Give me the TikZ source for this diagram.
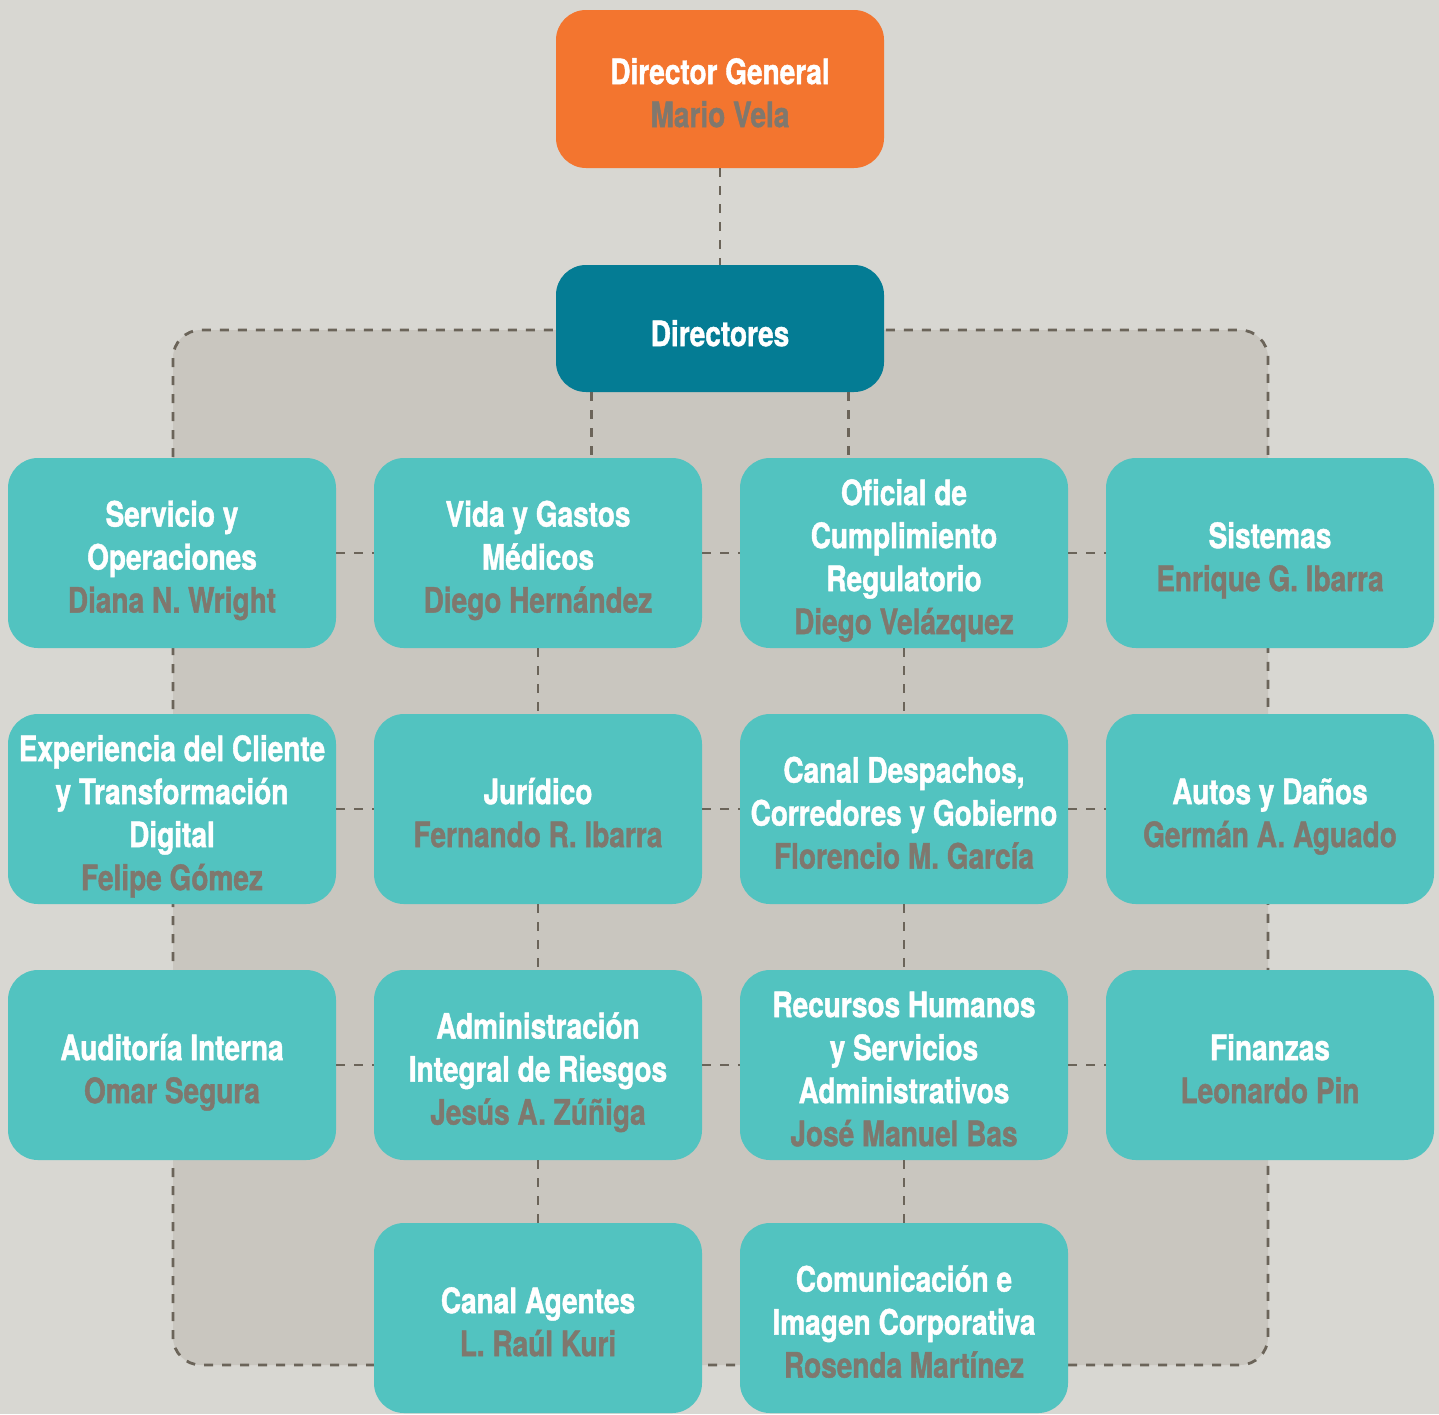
\documentclass[tikz,border=0pt]{standalone}
\usepackage{fontspec}
\setmainfont{TeX Gyre Heros}[FakeStretch=0.8, BoldFeatures={FakeBold=1.2}]
\definecolor{bggray}{HTML}{D8D7D2}
\definecolor{areagray}{HTML}{C9C6BF}
\definecolor{unitteal}{HTML}{52C3C0}
\definecolor{headorange}{HTML}{F3752F}
\definecolor{boardteal}{HTML}{047C94}
\definecolor{namegray}{HTML}{7F786E}
\definecolor{dashgray}{HTML}{6B6459}
\newcommand{\who}[1]{{\color{namegray}#1}}
% centred lines, set a little below the middle of the box
\newcommand{\lines}[2][8pt]{\raisebox{-#1}[\height][\depth]{\begin{tabular}{@{}c@{}}#2\end{tabular}}}
\begin{document}
\begin{tikzpicture}[x=1pt, y=-1pt,
  unit/.style={rectangle, rounded corners=30pt, fill=unitteal, text=white,
    minimum width=328pt, minimum height=190pt, inner sep=0pt,
    font=\fontsize{35}{43}\selectfont\bfseries},
  head/.style={unit, fill=headorange, minimum height=158pt},
  board/.style={unit, fill=boardteal, minimum height=127pt},
  link/.style={draw=dashgray, line width=2.8pt, dash pattern=on 9pt off 9pt}]
\useasboundingbox (0,0) rectangle (1439,1414);
\fill[bggray] (0,0) rectangle (1439,1414);
% shared area behind the units
\draw[link, fill=areagray, rounded corners=28pt] (173,330) rectangle (1268,1365);
\begin{scope}
\node[head] (dg) at (720,89) {\lines[8pt]{Director General\\\who{Mario Vela}}};
\node[board] (dir) at (720,328.5) {\lines[9pt]{Directores}};
\node[unit] (a1) at (172,553) {\lines{Servicio y\\Operaciones\\\who{Diana N. Wright}}};
\node[unit] (b1) at (538,553) {\lines{Vida y Gastos\\Médicos\\\who{Diego Hernández}}};
\node[unit] (c1) at (904,553) {\lines{Oficial de\\Cumplimiento\\Regulatorio\\\who{Diego Velázquez}}};
\node[unit] (d1) at (1270,553) {\lines{Sistemas\\\who{Enrique G. Ibarra}}};
\node[unit] (a2) at (172,809) {\lines{Experiencia del Cliente\\y Transformación\\Digital\\\who{Felipe Gómez}}};
\node[unit] (b2) at (538,809) {\lines{Jurídico\\\who{Fernando R. Ibarra}}};
\node[unit] (c2) at (904,809) {\lines{Canal Despachos,\\Corredores y Gobierno\\\who{Florencio M. García}}};
\node[unit] (d2) at (1270,809) {\lines{Autos y Daños\\\who{Germán A. Aguado}}};
\node[unit] (a3) at (172,1065) {\lines{Auditoría Interna\\\who{Omar Segura}}};
\node[unit] (b3) at (538,1065) {\lines{Administración\\Integral de Riesgos\\\who{Jesús A. Zúñiga}}};
\node[unit] (c3) at (904,1065) {\lines{Recursos Humanos\\y Servicios\\Administrativos\\\who{José Manuel Bas}}};
\node[unit] (d3) at (1270,1065) {\lines{Finanzas\\\who{Leonardo Pin}}};
\node[unit] (b4) at (538,1318) {\lines{Canal Agentes\\\who{L. Raúl Kuri}}};
\node[unit] (c4) at (904,1318) {\lines{Comunicación e\\Imagen Corporativa\\\who{Rosenda Martínez}}};
\end{scope}
\coordinate (dl) at ([xshift=36pt]dir.south west);
\coordinate (dr) at ([xshift=-36pt]dir.south east);
\begin{scope}[every edge/.style={link}]
\draw (dg) edge (dir);
\draw (dl) edge (dl |- b1.north);
\draw (dr) edge (dr |- c1.north);
\draw (a1) edge (b1);
\draw (b1) edge (c1);
\draw (c1) edge (d1);
\draw (a2) edge (b2);
\draw (b2) edge (c2);
\draw (c2) edge (d2);
\draw (a3) edge (b3);
\draw (b3) edge (c3);
\draw (c3) edge (d3);
\draw (b1) edge (b2);
\draw (b2) edge (b3);
\draw (b3) edge (b4);
\draw (c1) edge (c2);
\draw (c2) edge (c3);
\draw (c3) edge (c4);
\end{scope}
\end{tikzpicture}
\end{document}
